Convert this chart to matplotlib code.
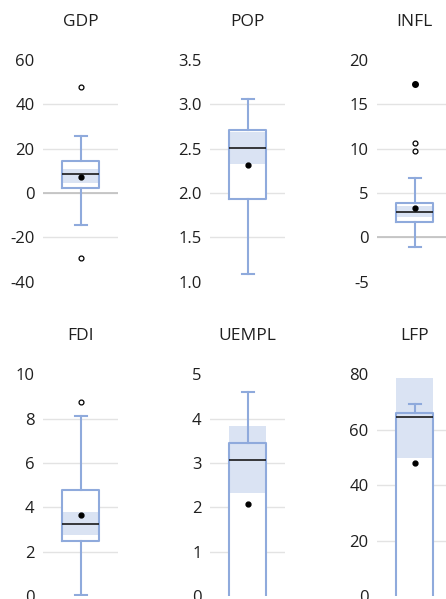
import matplotlib

matplotlib.use("Agg")
import matplotlib.pyplot as plt
import numpy as np

plt.rcParams["font.family"] = ["Open Sans", "DejaVu Sans"]
plt.rcParams["axes.unicode_minus"] = False

# Panel names (row by row)
names = ["GDP", "POP", "INFL", "FDI", "UEMPL", "LFP"]

# Box statistics
whislo = [-14.4, 1.08, -1.13, 0.03, -1.0, -10.0]
q1 = [2.1, 1.93, 1.69, 2.49, -0.5, -5.0]
med = [8.4, 2.51, 2.82, 3.24, 3.08, 64.6]
mean = [7.4, 2.32, 3.3, 3.66, 2.07, 48.1]
q3 = [14.4, 2.71, 3.87, 4.77, 3.46, 66.1]
whishi = [25.7, 3.06, 6.65, 8.13, 4.6, 69.3]
fliers = [[48.0, -29.5], [], [10.6, 9.7], [8.78], [], []]
extreme = [[], [], [17.3], [], [], []]

# Shaded band (low, high)
band_lo = [4.5, 2.33, 2.25, 2.76, 2.33, 49.9]
band_hi = [11.0, 2.69, 3.5, 3.77, 3.84, 78.7]

# Axis ranges and ticks
y_min = [-40, 1.0, -5, 0, 0, 0]
y_max = [60, 3.5, 20, 10, 5, 80]
y_step = [20, 0.5, 5, 2, 1, 20]
y_fmt = ["{:.0f}", "{:.1f}", "{:.0f}", "{:.0f}", "{:.0f}", "{:.0f}"]

BOX = "#8faadc"
BAND = "#dae3f3"
TEXT = "#1f1f1f"

W, H = 446, 599
fig = plt.figure(figsize=(W / 100, H / 100), dpi=100)

col_left = [43, 210, 377]
row_top = [60, 374.5]
ax_w, ax_h = 75, 221.5

for i, name in enumerate(names):
    r, c = divmod(i, 3)
    left, top = col_left[c], row_top[r]
    ax = fig.add_axes([left / W, 1 - (top + ax_h) / H, ax_w / W, ax_h / H])

    stats = [
        dict(
            whislo=whislo[i], q1=q1[i], med=med[i], mean=mean[i],
            q3=q3[i], whishi=whishi[i], fliers=fliers[i],
        )
    ]

    # white box face (hides gridlines)
    ax.bxp(
        stats, positions=[0], widths=0.5, patch_artist=True, showfliers=False,
        showcaps=False, boxprops=dict(facecolor="white", edgecolor="none"),
        whiskerprops=dict(linewidth=0), medianprops=dict(linewidth=0),
        zorder=1,
    )
    # shaded band
    ax.bar(0, band_hi[i] - band_lo[i], bottom=band_lo[i], width=0.5,
           color=BAND, linewidth=0, zorder=1.5)
    # box lines on top
    ax.bxp(
        stats, positions=[0], widths=0.5, showmeans=True, capwidths=0.16,
        boxprops=dict(color=BOX, linewidth=1.5),
        whiskerprops=dict(color=BOX, linewidth=1.5),
        capprops=dict(color=BOX, linewidth=1.5),
        medianprops=dict(color="#1a1a1a", linewidth=1.2),
        meanprops=dict(marker="o", markerfacecolor="black",
                       markeredgecolor="black", markersize=3.5),
        flierprops=dict(marker="o", markerfacecolor="white",
                        markeredgecolor="black", markersize=3.5,
                        markeredgewidth=0.9),
        zorder=3,
    )
    if extreme[i]:
        ax.plot([0] * len(extreme[i]), extreme[i], "o", color="black",
                markersize=4, zorder=4)

    ticks = np.arange(y_min[i], y_max[i] + y_step[i] / 2, y_step[i])
    ax.set_ylim(y_min[i], y_max[i])
    ax.set_xlim(-0.5, 0.5)
    ax.set_yticks(ticks)
    ax.set_yticklabels([y_fmt[i].format(t) for t in ticks])
    ax.set_xticks([])
    ax.grid(axis="y", color="#e3e3e3", linewidth=1, zorder=0)
    ax.set_axisbelow(True)
    gl = ax.get_ygridlines()
    gl[0].set_visible(False)
    gl[-1].set_visible(False)
    if y_min[i] < 0 < y_max[i]:
        ax.axhline(0, color="#c0c0c0", linewidth=1.2, zorder=0.8)

    ax.tick_params(axis="y", length=0, pad=6, labelsize=12, labelcolor=TEXT)
    for s in ax.spines.values():
        s.set_visible(False)
    ax.set_facecolor("none")

    ax.text(0.5, 1 + 38 / ax_h, name, transform=ax.transAxes, ha="center",
            va="center", fontsize=12.5, color=TEXT)

fig.savefig("out.png", dpi=100)
plt.close(fig)
